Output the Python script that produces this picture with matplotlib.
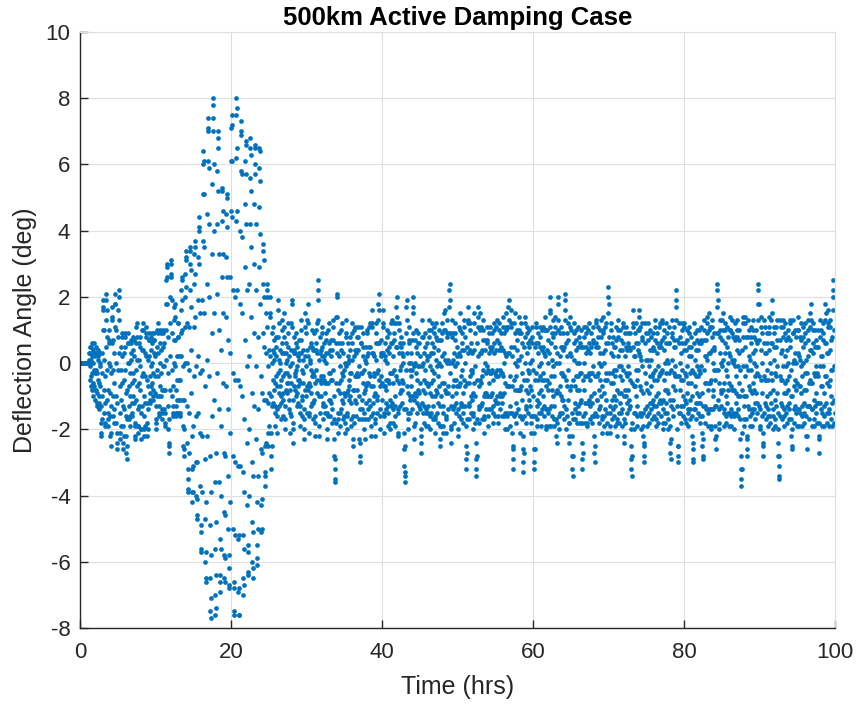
import numpy as np
import matplotlib
matplotlib.use("Agg")
import matplotlib.pyplot as plt

# Recorded deflection angle (deg), 30 samples per hour, one array per 10 hours
SAMPLES_PER_HOUR = 30

y_00_10 = [
 0.0,0.0,0.0,0.0,0.0,0.0,0.0,0.0,0.0,0.0,0.0,0.0,0.0,0.0,0.0,0.0,0.0,0.0,0.0,0.0,0.0,0.0,0.0,0.0,0.0,0.0,0.0,0.0,0.0,0.0,
 0.0,0.0,0.0,0.0,0.0,0.0,0.1,0.3,0.5,0.3,-0.1,-0.5,-0.7,-0.4,0.1,0.5,0.6,0.2,-0.3,-0.8,-1.0,-0.6,0.0,0.4,0.6,0.3,-0.2,-0.7,-1.1,-0.8,
 -0.3,0.2,0.5,0.3,-0.2,-0.8,-1.2,-1.3,-0.9,-0.3,0.2,0.4,0.1,-0.5,-1.0,-1.4,-1.2,-0.6,0.0,0.3,-0.1,-0.7,-1.3,-1.8,-2.1,-2.2,-1.7,-1.0,-0.3,0.3,
 1.0,1.6,1.9,1.7,1.0,0.1,-0.8,-1.5,-1.9,-1.8,-1.2,-0.4,0.5,1.3,1.9,2.1,1.6,0.8,-0.2,-1.1,-1.7,-1.9,-1.5,-0.8,0.0,0.7,1.0,0.6,-0.1,-0.9,
 -1.6,-2.2,-2.5,-2.1,-1.3,-0.3,0.6,1.3,1.7,1.4,0.7,-0.2,-1.0,-1.6,-1.8,-1.4,-0.6,0.3,1.1,1.8,2.1,1.8,1.0,0.0,-1.0,-1.8,-2.4,-2.6,-2.1,-1.2,
 -0.2,0.8,1.6,2.2,2.0,1.3,0.3,-0.7,-1.5,-2.1,-2.3,-1.9,-1.1,-0.2,0.5,0.9,0.8,0.2,-0.6,-1.3,-1.9,-2.4,-2.6,-2.2,-1.4,-0.5,0.3,0.8,0.9,0.5,
 -0.2,-0.9,-1.6,-2.2,-2.7,-2.9,-2.5,-1.7,-0.8,0.0,0.6,0.9,0.6,0.0,-0.7,-1.3,-1.7,-1.9,-1.6,-1.0,-0.3,0.3,0.7,0.6,0.1,-0.6,-1.2,-1.6,-1.5,-1.0,
 -0.3,0.4,0.8,0.7,0.2,-0.5,-1.2,-1.8,-2.2,-2.3,-1.9,-1.1,-0.2,0.6,1.1,1.2,0.8,0.1,-0.7,-1.4,-1.9,-2.1,-1.9,-1.3,-0.6,0.1,0.6,0.8,0.5,-0.1,
 -0.8,-1.5,-2.0,-2.3,-2.0,-1.3,-0.4,0.4,1.0,1.2,1.0,0.4,-0.3,-1.0,-1.6,-2.0,-2.2,-1.9,-1.2,-0.4,0.3,0.9,1.1,0.8,0.2,-0.5,-1.2,-1.8,-2.2,-2.0,
 -1.4,-0.7,0.1,0.7,0.9,0.7,0.2,-0.4,-0.9,-1.2,-1.1,-0.7,-0.1,0.4,0.8,0.9,0.6,0.0,-0.6,-1.0,-1.1,-0.8,-0.3,0.3,0.7,0.9,0.7,0.2,-0.4,-0.9,
]
y_10_20 = [
 -1.3,-1.8,-2.0,-1.7,-1.0,-0.2,0.5,1.0,1.2,0.9,0.3,-0.4,-1.0,-1.5,-1.6,-1.3,-0.7,0.0,0.6,1.0,0.9,0.4,-0.3,-1.0,-1.5,-1.7,-1.4,-0.8,-0.1,0.5,
 0.9,1.0,0.6,-0.1,-0.8,-1.4,-1.8,-1.9,-1.5,-0.8,0.1,1.0,1.8,2.5,2.9,3.0,2.6,1.8,0.8,-0.3,-1.3,-2.0,-2.5,-2.7,-2.4,-1.7,-0.8,0.2,1.2,2.0,
 2.6,3.0,3.1,2.7,1.9,0.9,-0.2,-1.0,-1.5,-1.6,-1.3,-0.7,0.0,0.7,1.3,1.7,1.8,1.4,0.7,-0.1,-0.8,-1.3,-1.5,-1.6,-1.5,-1.1,-0.5,0.2,0.8,1.2,
 1.2,0.8,0.2,-0.5,-1.1,-1.5,-1.6,-1.5,-1.1,-0.5,0.2,0.9,1.6,2.2,2.6,2.5,1.9,1.0,-0.1,-1.1,-1.9,-2.5,-2.8,-2.6,-2.0,-1.1,0.0,1.1,2.0,2.7,
 3.2,3.4,3.1,2.3,1.2,0.0,-1.3,-2.4,-3.2,-3.8,-3.9,-3.5,-2.7,-1.5,-0.2,1.1,2.2,3.0,3.5,3.4,2.8,1.7,0.4,-0.9,-2.2,-3.2,-3.9,-4.2,-3.9,-3.1,
 -1.9,-0.4,1.1,2.4,3.3,3.7,3.5,2.7,1.4,-0.1,-1.6,-3.0,-4.0,-4.6,-4.7,-4.1,-3.0,-1.5,0.2,1.9,3.2,4.1,4.4,4.0,3.0,1.5,-0.3,-2.1,-3.7,-4.9,
 -5.6,-5.7,-5.1,-3.9,-2.2,-0.2,1.9,3.7,5.1,6.0,6.4,6.1,5.1,3.5,1.5,-0.7,-2.9,-4.7,-6.0,-6.6,-6.5,-5.7,-4.2,-2.2,0.1,2.4,4.5,6.1,7.1,7.4,
 7.0,5.9,4.2,2.0,-0.4,-2.8,-4.9,-6.5,-7.5,-7.7,-7.1,-5.8,-3.9,-1.6,0.9,3.3,5.4,7.0,7.8,8.0,7.4,6.0,4.0,1.5,-1.1,-3.6,-5.6,-7.0,-7.6,-7.4,
 -6.4,-4.8,-2.7,-0.3,2.1,4.2,5.8,6.8,7.0,6.5,5.2,3.3,1.0,-1.4,-3.6,-5.3,-6.4,-6.9,-6.6,-5.6,-4.0,-1.9,0.4,2.6,4.3,5.2,5.3,4.6,3.3,1.5,
 -0.6,-2.7,-4.5,-5.8,-6.5,-6.6,-5.9,-4.6,-2.8,-0.7,1.4,3.2,4.5,5.1,5.0,4.1,2.6,0.7,-1.4,-3.4,-5.0,-6.2,-6.8,-6.7,-5.8,-4.2,-2.1,0.3,2.6,4.6,
]
y_20_30 = [
 6.1,7.1,7.5,7.2,6.1,4.4,2.2,-0.3,-2.8,-5.0,-6.6,-7.5,-7.6,-6.8,-5.2,-3.0,-0.5,2.0,4.3,6.2,7.5,8.0,7.7,6.5,4.6,2.2,-0.5,-3.1,-5.3,-6.9,
 -7.6,-7.6,-6.8,-5.2,-3.1,-0.7,1.8,4.0,5.8,7.0,7.3,6.9,5.7,3.8,1.5,-1.0,-3.3,-5.2,-6.5,-7.0,-6.7,-5.6,-3.9,-1.7,0.7,2.9,4.8,6.1,6.7,6.6,
 5.7,4.2,2.2,-0.1,-2.4,-4.3,-5.7,-6.4,-6.3,-5.5,-4.0,-2.0,0.2,2.4,4.2,5.6,6.5,6.8,6.3,5.2,3.5,1.4,-0.9,-3.0,-4.8,-6.0,-6.5,-6.2,-5.1,-3.4,
 -1.3,0.9,3.0,4.8,6.0,6.6,6.5,5.7,4.2,2.2,-0.1,-2.3,-4.2,-5.5,-6.1,-5.9,-5.0,-3.4,-1.4,0.8,2.9,4.7,5.9,6.5,6.4,5.5,3.9,1.8,-0.4,-2.6,
 -4.3,-5.1,-5.0,-4.1,-2.7,-0.9,0.9,2.4,3.4,3.6,3.1,2.0,0.5,-1.1,-2.5,-3.4,-3.7,-3.3,-2.4,-1.1,0.3,1.5,2.2,2.4,2.0,1.1,-0.1,-1.2,-2.1,-2.5,
 -1.9,-0.9,0.4,1.5,2.0,1.4,0.2,-1.0,-2.1,-2.8,-3.2,-2.5,-1.3,0.0,0.9,1.1,0.4,-0.5,-1.2,-0.8,0.1,0.7,0.3,-0.6,-1.5,-1.9,-1.3,-0.4,0.5,0.8,
 0.2,-0.7,-1.6,-2.1,-1.4,-0.3,0.8,1.6,1.9,1.2,0.1,-0.9,-1.3,-0.7,0.0,0.4,-0.2,-1.0,-1.7,-1.2,-0.5,0.3,1.0,1.3,0.6,-0.4,-1.1,-1.6,-0.9,0.3,
 1.1,1.5,0.8,-0.3,-1.3,-2.0,-1.7,-0.8,0.0,0.6,0.3,-0.3,-0.9,-0.6,0.1,0.9,1.2,0.5,-0.6,-1.4,-1.1,-0.4,0.2,-0.1,-0.8,-1.5,-2.1,-1.6,-0.6,0.4,
 1.2,1.8,1.9,1.1,0.0,-1.1,-2.0,-2.4,-1.8,-0.7,0.3,0.8,0.4,-0.3,-0.8,-0.4,0.3,0.9,0.6,-0.2,-1.0,-1.3,-0.9,-0.1,0.5,0.2,-0.5,-1.2,-0.7,0.1,
 0.7,0.3,-0.5,-1.3,-1.9,-1.5,-0.6,0.3,1.0,1.3,0.7,-0.2,-1.1,-1.6,-1.0,-0.3,0.4,0.1,-0.6,-1.4,-2.0,-2.3,-1.7,-0.8,0.2,1.1,1.5,0.9,-0.1,-1.0,
]
y_30_40 = [
 -1.5,-0.7,0.4,1.3,1.8,1.2,0.2,-0.8,-1.6,-2.1,-1.5,-0.6,0.1,0.5,0.0,-0.7,-1.3,-0.9,-0.2,0.6,1.0,0.5,-0.4,-1.2,-1.7,-1.2,-0.3,0.4,0.9,0.4,
 -0.4,-1.1,-1.8,-2.2,-1.6,-0.6,0.4,1.0,0.6,-0.2,-0.9,-0.5,0.3,1.2,1.9,2.5,2.2,1.3,0.1,-1.0,-1.9,-2.2,-1.5,-0.5,0.3,0.8,0.4,-0.4,-1.0,-0.6,
 0.2,0.9,1.1,0.5,-0.4,-1.2,-1.7,-1.3,-0.5,0.2,0.6,0.1,-0.6,-1.3,-1.5,-0.9,0.0,0.7,0.9,0.3,-0.6,-1.5,-2.0,-2.3,-1.6,-0.6,0.3,1.0,1.2,0.6,
 -0.3,-1.1,-1.6,-1.1,-0.3,0.4,0.7,0.2,-0.5,-1.2,-1.8,-1.4,-0.5,0.4,1.1,1.3,0.7,-0.2,-1.0,-1.7,-2.3,-2.8,-3.2,-3.5,-3.6,-2.9,-1.8,-0.6,0.6,1.4,
 2.0,2.1,1.4,0.3,-0.8,-1.7,-2.1,-1.5,-0.6,0.2,0.9,0.6,-0.1,-0.9,-1.5,-1.9,-1.4,-0.5,0.4,1.0,1.2,0.6,-0.3,-1.1,-1.7,-1.2,-0.4,0.3,-0.2,-0.9,
 -1.6,-2.1,-1.8,-1.0,0.0,0.9,1.3,0.8,-0.1,-0.9,-1.5,-2.0,-1.6,-0.8,0.0,0.6,0.2,-0.5,-1.1,-0.7,0.1,0.8,0.4,-0.3,-1.0,-1.7,-1.9,-1.2,-0.3,0.6,
 1.2,0.9,0.1,-0.8,-1.6,-2.3,-2.5,-1.8,-0.8,0.2,1.0,1.1,0.4,-0.4,-1.1,-1.6,-1.2,-0.4,0.3,0.8,0.4,-0.3,-0.8,-0.4,0.4,1.1,0.8,-0.1,-1.0,-1.7,
 -2.3,-2.8,-3.0,-2.4,-1.4,-0.3,0.6,1.1,0.6,-0.3,-1.1,-1.7,-1.4,-0.6,0.2,0.9,0.5,-0.2,-0.9,-1.5,-2.0,-2.3,-1.7,-0.8,0.1,0.5,0.0,-0.7,-1.2,-0.6,
 0.2,0.9,1.0,0.3,-0.6,-1.4,-1.7,-1.1,-0.3,0.5,1.1,1.2,0.5,-0.4,-1.3,-1.9,-2.2,-1.6,-0.7,0.3,1.1,1.6,1.2,0.3,-0.7,-1.5,-1.2,-0.4,0.2,-0.3,
 -1.0,-1.7,-2.2,-1.8,-0.9,0.1,0.9,1.2,0.6,-0.3,-1.0,-1.5,-1.1,-0.2,0.6,1.3,1.8,2.1,1.6,0.6,-0.5,-1.4,-2.0,-1.6,-0.7,0.2,0.7,0.3,-0.4,-1.1,
]
y_40_50 = [
 -0.6,0.3,1.1,1.6,1.2,0.3,-0.7,-1.5,-2.1,-1.6,-0.7,0.1,0.6,0.2,-0.5,-1.2,-1.4,-0.8,0.0,0.8,1.0,0.4,-0.5,-1.3,-1.9,-1.5,-0.6,0.3,0.9,0.5,
 -0.3,-1.1,-1.8,-2.0,-1.3,-0.3,0.6,1.2,1.3,0.6,-0.3,-1.2,-1.8,-1.4,-0.6,0.2,0.9,1.2,0.7,-0.2,-1.0,-1.6,-1.9,-1.3,-0.4,0.5,1.2,1.7,2.0,1.4,
 0.5,-0.5,-1.4,-2.1,-2.2,-1.5,-0.6,0.3,1.0,1.2,0.6,-0.2,-0.9,-1.3,-0.8,-0.1,0.5,0.8,0.3,-0.5,-1.2,-0.8,0.0,0.6,0.2,-0.6,-1.4,-2.1,-2.6,-3.1,
 -3.4,-3.6,-3.3,-2.5,-1.4,-0.2,0.9,1.7,1.9,1.3,0.3,-0.7,-1.5,-2.0,-1.7,-0.9,0.0,0.7,1.1,0.6,-0.2,-1.0,-1.5,-1.1,-0.4,0.3,0.0,-0.7,-1.4,-1.0,
 -0.2,0.7,1.5,2.0,1.7,0.9,-0.1,-1.1,-1.9,-2.3,-1.8,-0.9,0.0,0.7,1.0,0.5,-0.3,-1.0,-1.5,-1.2,-0.5,0.3,0.9,0.6,-0.1,-0.8,-1.3,-0.9,-0.1,0.6,
 0.2,-0.6,-1.4,-2.0,-2.4,-2.7,-2.2,-1.2,-0.1,0.8,1.3,0.8,0.0,-0.8,-1.5,-1.8,-1.3,-0.5,0.3,0.9,0.5,-0.2,-0.9,-1.5,-1.9,-1.4,-0.6,0.2,0.6,0.1,
 -0.6,-1.3,-1.9,-1.5,-0.7,0.2,1.0,1.3,0.8,-0.1,-0.9,-1.6,-2.0,-1.5,-0.6,0.3,1.0,1.2,0.6,-0.2,-1.0,-1.7,-1.3,-0.5,0.3,0.9,1.1,0.5,-0.3,-1.0,
 -1.6,-2.1,-1.7,-0.8,0.1,0.8,1.2,0.7,-0.1,-0.9,-1.5,-1.8,-1.2,-0.4,0.4,1.0,0.7,0.0,-0.7,-1.3,-1.9,-2.3,-2.5,-1.9,-1.0,-0.1,0.7,1.2,0.9,0.2,
 -0.6,-1.3,-1.9,-2.1,-1.5,-0.6,0.3,1.0,1.5,1.6,1.0,0.1,-0.8,-1.6,-2.1,-1.7,-0.9,0.0,0.8,1.3,0.9,0.1,-0.7,-1.4,-0.9,0.0,0.9,1.7,2.2,2.4,
 1.9,0.9,-0.3,-1.3,-2.0,-2.4,-1.9,-1.0,0.0,0.8,1.3,0.9,0.1,-0.7,-1.4,-1.8,-1.3,-0.5,0.3,0.9,1.2,0.7,-0.1,-0.9,-1.5,-1.2,-0.5,0.2,0.5,0.0,
]
y_50_60 = [
 -0.7,-1.4,-2.0,-2.2,-1.6,-0.7,0.3,1.1,1.5,1.0,0.2,-0.6,-1.3,-1.7,-1.2,-0.4,0.4,0.9,0.6,-0.2,-0.9,-1.5,-1.8,-1.3,-0.5,0.4,1.1,1.3,0.8,0.0,
 -0.7,-1.3,-1.9,-2.5,-2.9,-3.2,-2.7,-1.7,-0.6,0.5,1.3,1.7,1.2,0.3,-0.6,-1.3,-1.7,-1.2,-0.4,0.4,1.0,1.2,0.6,-0.2,-1.0,-1.5,-1.1,-0.3,0.3,-0.2,
 -0.9,-1.6,-2.0,-1.5,-0.6,0.4,1.2,1.5,0.9,-0.1,-1.0,-1.8,-2.4,-2.9,-3.2,-3.4,-2.8,-1.7,-0.5,0.6,1.4,1.7,1.1,0.2,-0.7,-1.4,-1.8,-1.3,-0.5,0.3,
 1.0,1.5,1.1,0.3,-0.6,-1.3,-1.7,-1.2,-0.4,0.4,1.0,1.3,0.7,-0.2,-1.0,-1.6,-2.1,-1.7,-0.9,0.0,0.7,0.4,-0.3,-1.0,-1.4,-0.9,-0.1,0.7,1.1,0.6,
 -0.2,-1.0,-1.6,-1.9,-1.4,-0.6,0.3,0.9,1.1,0.5,-0.3,-1.0,-1.4,-1.0,-0.3,0.4,0.9,0.5,-0.2,-0.9,-1.5,-1.8,-1.3,-0.5,0.3,1.0,1.2,0.6,-0.3,-1.1,
 -1.6,-1.2,-0.4,0.4,1.1,1.3,0.7,-0.2,-1.0,-1.6,-1.8,-1.2,-0.4,0.4,1.0,1.2,0.6,-0.2,-0.9,-1.4,-1.0,-0.3,0.4,0.9,0.5,-0.3,-1.0,-1.6,-1.2,-0.4,
 0.4,1.1,1.4,0.9,0.0,-0.9,-1.6,-2.0,-1.5,-0.6,0.3,1.0,1.5,1.1,0.2,-0.7,-1.5,-2.0,-1.6,-0.7,0.3,1.1,1.7,1.9,1.3,0.3,-0.7,-1.5,-1.9,-1.3,
 -0.4,0.5,1.2,1.6,1.1,0.2,-0.7,-1.5,-2.1,-2.5,-2.9,-3.2,-2.6,-1.6,-0.5,0.5,1.2,1.5,0.9,0.0,-0.8,-1.5,-1.8,-1.2,-0.4,0.4,1.0,0.7,-0.1,-0.8,
 -1.4,-0.8,0.1,0.9,1.4,1.0,0.1,-0.8,-1.6,-2.1,-1.6,-0.7,0.2,0.9,1.2,0.6,-0.3,-1.1,-1.7,-2.2,-2.6,-3.0,-3.3,-2.7,-1.6,-0.5,0.5,1.2,1.4,0.8,
 0.0,-0.8,-1.4,-1.8,-1.3,-0.5,0.3,0.9,1.1,0.6,-0.2,-0.9,-1.5,-1.1,-0.3,0.5,1.0,0.7,0.0,-0.7,-1.3,-1.8,-2.1,-1.6,-0.8,0.1,0.8,1.1,0.6,-0.2,
]
y_60_70 = [
 -1.0,-1.6,-2.1,-2.6,-3.0,-3.2,-2.6,-1.6,-0.5,0.5,1.1,1.2,0.6,-0.3,-1.1,-1.7,-1.9,-1.3,-0.5,0.3,0.9,0.6,-0.1,-0.9,-1.5,-1.2,-0.4,0.5,1.1,0.8,
 0.0,-0.8,-1.5,-1.9,-1.4,-0.5,0.4,1.0,1.1,0.5,-0.3,-1.0,-1.6,-1.3,-0.5,0.3,1.0,1.4,1.0,0.2,-0.7,-1.4,-1.9,-2.0,-1.4,-0.5,0.4,1.0,0.7,0.0,
 -0.8,-1.5,-1.9,-1.4,-0.6,0.3,1.1,1.6,2.0,1.5,0.6,-0.4,-1.3,-1.9,-1.6,-0.8,0.1,0.9,1.3,0.8,-0.1,-1.0,-1.7,-1.9,-1.3,-0.4,0.5,1.1,1.4,0.9,
 0.0,-0.9,-1.7,-2.2,-2.4,-1.8,-0.8,0.3,1.3,2.0,1.8,1.0,0.0,-0.9,-1.6,-2.0,-1.5,-0.7,0.2,0.9,1.1,0.5,-0.3,-1.0,-1.5,-1.1,-0.3,0.5,0.9,0.4,
 -0.4,-1.1,-1.7,-1.3,-0.4,0.5,1.3,1.9,2.1,1.6,0.6,-0.5,-1.4,-2.0,-1.6,-0.7,0.2,0.9,1.2,0.7,-0.2,-1.1,-1.8,-2.2,-2.4,-1.8,-0.8,0.3,1.1,1.4,
 1.0,0.2,-0.7,-1.5,-2.2,-2.8,-3.2,-3.4,-2.8,-1.7,-0.5,0.6,1.2,0.9,0.1,-0.7,-1.4,-1.7,-1.2,-0.4,0.4,1.0,0.7,0.0,-0.8,-1.5,-1.8,-1.3,-0.4,0.5,
 1.1,0.8,0.0,-0.8,-1.5,-1.8,-1.2,-0.3,0.6,1.0,0.5,-0.3,-1.1,-1.8,-2.4,-2.9,-3.2,-2.7,-1.6,-0.5,0.5,1.1,0.8,0.0,-0.8,-1.5,-1.8,-1.2,-0.4,0.3,
 0.9,1.1,0.5,-0.4,-1.2,-1.8,-1.9,-1.2,-0.4,0.4,1.0,1.2,0.6,-0.3,-1.1,-1.7,-1.3,-0.5,0.3,0.9,0.5,-0.3,-1.0,-1.6,-1.8,-1.2,-0.3,0.6,1.1,0.7,
 -0.1,-0.9,-1.6,-2.2,-2.7,-3.0,-2.5,-1.5,-0.4,0.6,1.3,1.2,0.5,-0.4,-1.1,-1.6,-1.1,-0.3,0.5,1.1,0.8,0.0,-0.8,-1.4,-1.8,-1.3,-0.5,0.3,1.0,1.3,
 0.8,-0.1,-1.0,-1.7,-2.1,-1.6,-0.7,0.3,1.0,1.4,0.9,0.0,-0.9,-1.6,-1.9,-1.4,-0.5,0.4,1.1,1.2,0.6,-0.3,-1.1,-1.8,-2.1,-1.5,-0.5,0.6,1.5,2.0,
]
y_70_80 = [
 2.3,1.8,0.8,-0.3,-1.3,-1.9,-2.1,-1.5,-0.6,0.3,1.0,1.2,0.6,-0.3,-1.1,-1.7,-1.4,-0.6,0.2,0.8,0.5,-0.2,-1.0,-1.6,-1.9,-1.3,-0.4,0.5,1.1,0.7,
 -0.2,-1.1,-1.8,-2.2,-1.7,-0.8,0.2,1.0,1.3,0.8,-0.1,-0.9,-1.5,-1.8,-1.2,-0.4,0.4,1.0,0.7,-0.1,-0.9,-1.5,-1.9,-1.4,-0.5,0.4,1.1,1.2,0.6,-0.2,
 -1.0,-1.7,-2.2,-2.4,-1.8,-0.8,0.2,0.9,1.1,0.5,-0.3,-1.0,-1.5,-1.2,-0.4,0.4,0.9,0.6,-0.1,-0.8,-1.4,-1.1,-0.3,0.5,0.9,0.4,-0.5,-1.3,-2.0,-2.5,
 -2.9,-3.2,-3.4,-2.8,-1.8,-0.6,0.5,1.2,1.6,1.1,0.2,-0.7,-1.5,-2.0,-1.5,-0.7,0.2,0.9,1.2,0.6,-0.2,-1.0,-1.6,-1.9,-1.3,-0.5,0.4,1.0,0.6,-0.2,
 0.3,1.0,1.4,1.6,1.1,0.2,-0.7,-1.5,-2.0,-1.6,-0.8,0.1,0.8,1.2,0.7,-0.1,-0.9,-1.5,-1.9,-2.2,-2.5,-2.8,-3.0,-2.4,-1.4,-0.3,0.6,1.2,0.9,0.1,
 -0.6,-1.3,-1.9,-1.6,-0.8,0.1,0.9,1.2,0.7,-0.1,-0.9,-1.5,-1.8,-1.2,-0.4,0.4,1.0,0.8,0.1,-0.7,-1.4,-1.7,-1.2,-0.4,0.4,0.9,0.5,-0.3,-1.1,-1.6,
 -1.3,-0.5,0.4,1.1,1.3,0.7,-0.2,-1.0,-1.7,-1.9,-1.3,-0.5,0.3,0.9,0.6,-0.1,-0.9,-1.5,-1.8,-1.2,-0.4,0.5,1.1,1.2,0.6,-0.3,-1.1,-1.6,-1.2,-0.3,
 0.5,1.2,1.3,0.7,-0.2,-1.1,-1.8,-2.0,-1.4,-0.5,0.4,1.0,0.8,0.0,-0.8,-1.5,-1.8,-1.2,-0.3,0.6,1.2,0.9,0.1,-0.8,-1.5,-2.0,-1.7,-0.9,0.0,0.6,
 1.1,0.6,-0.3,-1.1,-1.9,-2.4,-2.7,-2.9,-2.3,-1.3,-0.2,0.8,1.3,0.9,0.1,-0.7,-1.4,-1.6,-1.1,-0.3,0.5,1.1,0.7,-0.1,-0.8,-0.4,0.5,1.3,1.9,2.2,
 1.7,0.7,-0.4,-1.3,-2.0,-2.5,-2.8,-3.0,-2.5,-1.5,-0.4,0.6,1.2,0.8,0.0,-0.8,-1.5,-1.8,-1.3,-0.5,0.3,1.0,1.2,0.6,-0.2,-1.0,-1.6,-1.3,-0.5,0.4,
]
y_80_90 = [
 1.1,1.2,0.6,-0.3,-1.1,-1.7,-1.8,-1.2,-0.4,0.4,1.0,0.7,-0.1,-0.9,-1.5,-1.9,-1.4,-0.6,0.2,0.9,1.1,0.5,-0.3,-1.1,-1.7,-1.4,-0.6,0.2,0.8,0.5,
 -0.2,-1.0,-1.6,-2.2,-2.6,-2.9,-3.0,-2.4,-1.4,-0.3,0.6,1.2,0.9,0.1,-0.7,-1.4,-1.7,-1.2,-0.4,0.4,1.0,0.7,-0.1,-0.9,-1.5,-1.2,-0.4,0.4,1.0,0.6,
 -0.2,-1.0,-1.6,-1.8,-1.2,-0.3,0.6,1.1,0.7,-0.1,-0.9,-1.6,-2.1,-2.5,-2.8,-2.9,-2.3,-1.3,-0.2,0.7,1.3,1.0,0.2,-0.6,-1.3,-1.8,-1.4,-0.6,0.2,0.7,
 1.2,1.4,0.9,0.1,-0.8,-1.5,-1.9,-1.4,-0.6,0.3,1.0,1.5,1.1,0.3,-0.6,-1.4,-1.9,-2.0,-1.4,-0.5,0.4,1.1,1.3,0.8,0.0,-0.8,-1.4,-1.0,-0.2,0.5,
 0.9,0.4,-0.5,-1.3,-1.9,-2.3,-2.6,-2.2,-1.3,-0.2,0.9,1.7,2.2,2.4,1.9,0.9,-0.2,-1.1,-1.8,-2.0,-1.4,-0.6,0.3,1.0,1.3,0.8,0.0,-0.8,-1.3,-0.9,
 -0.1,0.7,1.3,1.5,1.0,0.1,-0.8,-1.5,-1.9,-1.4,-0.6,0.3,1.0,1.2,0.6,-0.2,-1.0,-1.6,-1.8,-1.2,-0.4,0.5,1.1,0.8,0.0,-0.8,-1.5,-1.9,-1.5,-0.6,
 0.3,1.0,1.4,1.0,0.2,-0.7,-1.4,-1.9,-1.6,-0.8,0.1,0.9,1.3,0.8,0.0,-0.8,-1.5,-2.0,-1.6,-0.8,0.1,0.8,1.2,0.7,-0.1,-0.9,-1.5,-1.2,-0.4,0.4,
 1.0,1.3,0.8,-0.1,-1.0,-1.6,-1.4,-0.6,0.3,1.0,0.7,-0.2,-1.0,-1.7,-2.3,-2.8,-3.2,-3.5,-3.7,-3.2,-2.1,-0.8,0.4,1.2,1.4,0.8,-0.1,-1.0,-1.7,-1.9,
 -1.3,-0.4,0.5,1.2,1.4,0.8,-0.1,-1.0,-1.7,-2.2,-2.6,-2.8,-2.3,-1.3,-0.2,0.8,1.3,1.0,0.2,-0.7,-1.4,-1.9,-1.6,-0.8,0.1,0.8,1.1,0.6,-0.2,-0.9,
 -1.5,-1.9,-1.4,-0.6,0.3,1.0,1.3,0.8,0.0,-0.8,-1.4,-1.7,-1.2,-0.4,0.4,1.0,0.7,-0.1,-0.9,-1.5,-1.2,-0.3,0.6,1.3,1.8,2.2,2.4,1.8,0.7,-0.4,
]
y_90_100 = [
 -1.3,-1.9,-2.0,-1.4,-0.5,0.4,1.1,1.4,0.9,0.0,-0.9,-1.6,-2.1,-2.5,-2.8,-2.4,-1.5,-0.4,0.6,1.3,1.1,0.3,-0.5,-1.2,-1.7,-1.3,-0.5,0.3,0.9,0.6,
 -0.2,-1.0,-1.6,-1.9,-1.4,-0.5,0.4,1.1,1.4,0.9,0.0,-0.9,-1.6,-1.8,-1.2,-0.3,0.6,1.3,1.9,1.5,0.6,-0.5,-1.4,-2.0,-1.6,-0.8,0.1,0.9,1.1,0.5,
 -0.3,-1.1,-1.7,-1.9,-1.3,-0.4,0.5,1.1,1.3,0.7,-0.1,-0.9,-1.5,-2.0,-2.4,-2.8,-3.1,-3.4,-3.5,-2.8,-1.6,-0.4,0.7,1.3,1.1,0.3,-0.5,-1.2,-1.7,-1.3,
 -0.5,0.4,1.1,1.3,0.8,-0.1,-0.9,-1.6,-1.9,-1.4,-0.6,0.2,0.9,1.2,0.7,-0.1,-0.9,-1.5,-1.8,-1.3,-0.5,0.4,1.0,0.8,0.0,-0.8,-1.4,-1.7,-1.2,-0.4,
 0.5,1.2,1.3,0.7,-0.2,-1.0,-1.7,-2.2,-2.5,-2.6,-2.0,-1.0,0.0,0.9,1.3,0.9,0.1,-0.7,-1.4,-1.8,-1.3,-0.5,0.3,1.0,0.8,0.0,-0.8,-1.5,-1.9,-1.4,
 -0.6,0.3,1.0,1.4,1.0,0.2,-0.7,-1.4,-1.9,-1.5,-0.7,0.1,0.8,1.2,0.7,-0.1,-0.9,-1.6,-1.9,-1.3,-0.4,0.5,1.1,0.8,0.0,-0.8,-1.5,-1.8,-1.2,-0.3,
 0.6,1.2,0.9,0.1,-0.8,-1.6,-2.2,-2.6,-2.2,-1.3,-0.3,0.7,1.3,1.0,0.2,-0.6,-1.3,-1.7,-1.3,-0.5,0.4,1.1,1.5,1.8,1.3,0.4,-0.6,-1.4,-1.9,-1.4,
 -0.6,0.3,1.0,1.2,0.6,-0.3,-1.1,-1.7,-1.9,-1.3,-0.4,0.5,1.0,0.7,-0.1,-0.9,-1.5,-1.8,-1.2,-0.3,0.5,1.0,0.5,-0.4,-1.2,-1.8,-2.3,-2.7,-2.2,-1.2,
 -0.1,0.8,1.3,1.0,0.2,-0.7,-1.4,-1.9,-1.5,-0.7,0.2,0.9,1.2,0.7,-0.1,-0.9,-1.6,-1.9,-1.3,-0.4,0.6,1.3,1.8,1.5,0.6,-0.4,-1.2,-1.8,-1.5,-0.6,
 0.3,1.1,1.6,1.2,0.3,-0.7,-1.5,-1.9,-1.4,-0.5,0.4,1.1,1.3,0.7,-0.2,-1.0,-1.7,-1.9,-1.2,-0.2,0.8,1.6,2.2,2.5,2.0,1.0,-0.1,-1.1,-1.8,-1.5,
]

angle = np.array(y_00_10 + y_10_20 + y_20_30 + y_30_40 + y_40_50 +
                 y_50_60 + y_60_70 + y_70_80 + y_80_90 + y_90_100)
time_hrs = np.arange(angle.size) / SAMPLES_PER_HOUR

x_ticks = [0, 20, 40, 60, 80, 100]
y_ticks = [-8, -6, -4, -2, 0, 2, 4, 6, 8, 10]

plt.rcParams['font.family'] = ['Liberation Sans', 'DejaVu Sans']
plt.rcParams['axes.unicode_minus'] = False

fig = plt.figure(figsize=(8.57, 7.04), dpi=100)
ax = fig.add_axes([80/857, 76/704, 755/857, 596/704])

ax.plot(time_hrs, angle, linestyle='none', marker='o', markersize=3.4,
        markeredgewidth=0, color='#0072BD')

ax.set_xlim(0, 100)
ax.set_ylim(-8, 10)
ax.set_xticks(x_ticks)
ax.set_yticks(y_ticks)
ax.grid(True, color='#dfdfdf', linewidth=0.8)
ax.set_axisbelow(True)

for s in ['top', 'right']:
    ax.spines[s].set_color('#dfdfdf')
    ax.spines[s].set_linewidth(0.8)
for s in ['left', 'bottom']:
    ax.spines[s].set_color('#262626')
    ax.spines[s].set_linewidth(1.0)

ax.tick_params(direction='in', length=5.5, width=1.0, colors='#262626',
               labelsize=16)
ax.tick_params(axis='x', pad=10)
ax.tick_params(axis='y', pad=7)

ax.set_xlabel('Time (hrs)', fontsize=18, color='#262626', labelpad=9)
ax.set_ylabel('Deflection Angle (deg)', fontsize=18, color='#262626', labelpad=6)
ax.set_title('500km Active Damping Case', fontsize=18.5, fontweight='bold',
             color='black', pad=5)

fig.savefig('out.png', dpi=100)
